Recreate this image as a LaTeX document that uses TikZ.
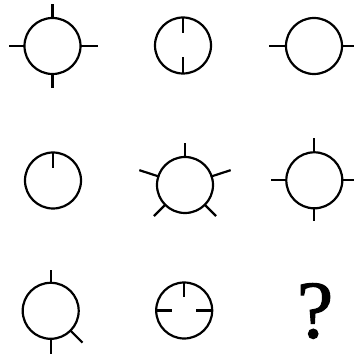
\documentclass[tikz,border=0pt]{standalone}
\usepackage{fontspec}
\setmainfont{Liberation Serif}
\newfontfamily\qfont[FakeBold=1.3]{Liberation Serif}
\begin{document}
\begin{tikzpicture}[x=1pt,y=1pt,
  ring/.style={circle,draw,line width=2.2pt,minimum size=56pt,inner sep=0pt,outer sep=0pt},
  tick/.style={line width=2.2pt}]
\useasboundingbox (0,0) rectangle (354,354);
% row 1
\node[ring] (c1) at (52.5,308) {};
\draw[tick] (c1.north) -- ++(0,14);
\draw[tick] (c1.south) -- ++(0,-14);
\draw[tick] (c1.west) -- ++(-16,0);
\draw[tick] (c1.east) -- ++(17,0);
\node[ring] (c2) at (183,308.5) {};
\draw[tick] (c2.north) -- ++(0,-16);
\draw[tick] (c2.south) -- ++(0,16);
\node[ring] (c3) at (314,308) {};
\draw[tick] (c3.west) -- ++(-17,0);
\draw[tick] (c3.east) -- ++(12,0);
% row 2
\node[ring] (c4) at (53,173.5) {};
\draw[tick] (c4.north) -- ++(0,-16);
\node[ring] (c5) at (185,169) {};
\draw[tick] (c5.north) -- ++(0,14);
\draw[tick] (c5.162) -- ++(162:20);
\draw[tick] (c5.18) -- ++(18:20);
\draw[tick] (c5.225) -- ++(225:16);
\draw[tick] (c5.315) -- ++(315:16);
\node[ring] (c6) at (314.3,173.7) {};
\draw[tick] (c6.north) -- ++(0,14);
\draw[tick] (c6.south) -- ++(0,-13);
\draw[tick] (c6.west) -- ++(-15,0);
\draw[tick] (c6.east) -- ++(12,0);
% row 3
\node[ring] (c7) at (50.7,43.2) {};
\draw[tick] (c7.north) -- ++(0,13);
\draw[tick] (c7.south) -- ++(0,-15);
\draw[tick] (c7.315) -- ++(315:17);
\node[ring] (c8) at (184.2,43.5) {};
\draw[tick] (c8.north) -- ++(0,-15);
\draw[tick] (c8.west) -- ++(16,0);
\draw[tick] (c8.east) -- ++(-16,0);
\node[inner sep=0pt] (q) at (315,43) {\qfont\fontsize{82}{82}\selectfont ?};
\end{tikzpicture}
\end{document}
